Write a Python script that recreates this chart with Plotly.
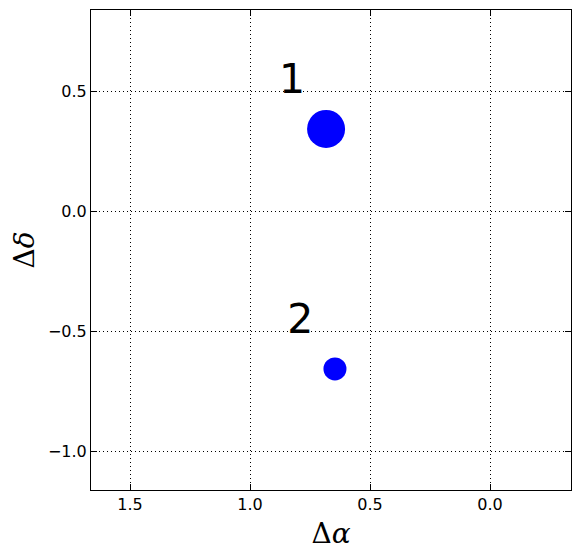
import plotly.graph_objects as go

# Data
labels = ["1", "2"]
d_alpha = [0.683, 0.646]
d_delta = [0.342, -0.658]
marker_px = [38, 23]
label_alpha = [0.825, 0.79]
label_delta = [0.534, -0.466]

x_ticks = [1.5, 1.0, 0.5, 0.0]
y_ticks = [0.5, 0.0, -0.5, -1.0]

fig = go.Figure()
fig.add_trace(go.Scatter(
    x=d_alpha, y=d_delta, mode="markers",
    marker=dict(size=marker_px, color="#0000ff", opacity=1, line=dict(width=0)),
    showlegend=False, hoverinfo="skip",
))
fig.add_trace(go.Scatter(
    x=label_alpha, y=label_delta, mode="text", text=labels,
    textfont=dict(family="DejaVu Sans", size=41, color="black"),
    textposition="middle center", showlegend=False, hoverinfo="skip",
))

axis_common = dict(
    showline=True, linecolor="black", linewidth=1, mirror="ticks",
    ticks="inside", ticklen=6, tickwidth=1, tickcolor="black",
    showgrid=True, gridcolor="black", gridwidth=1, griddash="1px,3px",
    zeroline=False, automargin=False,
    tickfont=dict(family="DejaVu Sans", size=16, color="black"),
)

fig.update_xaxes(
    range=[1.6625, -0.3375], tickvals=x_ticks,
    ticktext=[f"{v:.1f}" for v in x_ticks],
    title=dict(text="Δ<i>α</i>", font=dict(family="DejaVu Serif", size=28, color="black"), standoff=10),
    **axis_common,
)
fig.update_yaxes(
    range=[-1.1625, 0.8375], tickvals=y_ticks,
    ticktext=[("\u2212" if v < 0 else "") + f"{abs(v):.1f}" for v in y_ticks],
    title=dict(text="Δ<i>δ</i>", font=dict(family="DejaVu Serif", size=28, color="black"), standoff=15),
    **axis_common,
)

# page body has an 8px margin; size figure so the plot area lands at 91..571 x 10..490
fig.update_layout(
    width=572, height=550,
    margin=dict(l=83, r=9, t=2, b=68),
    plot_bgcolor="white", paper_bgcolor="white",
)

fig.write_html("out.html")
